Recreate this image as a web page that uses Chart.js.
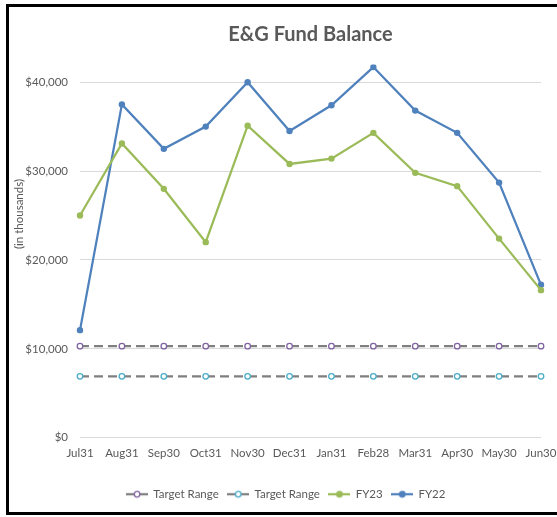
<!DOCTYPE html>
<html>
<head>
<meta charset="utf-8">
<script src="https://cdn.jsdelivr.net/npm/chart.js@4.4.1/dist/chart.umd.min.js"></script>
<style>
    html, body { margin: 0; padding: 0; background: #fff; }
    #wrap { position: relative; width: 557px; height: 517px; overflow: hidden; }
    #frame {
        position: absolute; left: 6px; top: 4px; width: 600px; height: 511px;
        box-sizing: border-box; border: 3px solid #000; border-right: none;
    }
    #chart { position: absolute; left: 0; top: 0; }
</style>
</head>
<body>
<div id="wrap">
    <div id="frame"></div>
    <canvas id="chart" width="557" height="517"></canvas>
</div>
<script>
const months = ['Jul31', 'Aug31', 'Sep30', 'Oct31', 'Nov30', 'Dec31', 'Jan31', 'Feb28', 'Mar31', 'Apr30', 'May30', 'Jun30'];
const targetHigh = [10300, 10300, 10300, 10300, 10300, 10300, 10300, 10300, 10300, 10300, 10300, 10300];
const targetLow = [6900, 6900, 6900, 6900, 6900, 6900, 6900, 6900, 6900, 6900, 6900, 6900];
const fy23 = [25000, 33100, 28000, 22000, 35100, 30800, 31400, 34300, 29800, 28300, 22400, 16600];
const fy22 = [12100, 37500, 32500, 35000, 40000, 34500, 37400, 41700, 36800, 34300, 28700, 17200];
const yTicks = [0, 10000, 20000, 30000, 40000];

const GRAY_TEXT = '#595959';
const FONT = 'Lato, "Open Sans", sans-serif';

// small line+marker icons for the legend
function legendIcon(lineColor, markerColor, markerFill) {
    const c = document.createElement('canvas');
    c.width = 22;
    c.height = 10;
    const g = c.getContext('2d');
    g.strokeStyle = lineColor;
    g.lineWidth = 2.25;
    g.beginPath();
    g.moveTo(0, 5);
    g.lineTo(22, 5);
    g.stroke();
    g.beginPath();
    g.arc(11, 5, 2.8, 0, Math.PI * 2);
    g.fillStyle = markerFill;
    g.fill();
    g.lineWidth = 1.3;
    g.strokeStyle = markerColor;
    g.stroke();
    return c;
}

// y axis title sits a bit above the middle, like the original
const yTitlePlugin = {
    id: 'yTitle',
    afterDraw(chart) {
        const ctx = chart.ctx;
        ctx.save();
        ctx.translate(19, 214);
        ctx.rotate(-Math.PI / 2);
        ctx.font = '11.5px ' + FONT;
        ctx.fillStyle = GRAY_TEXT;
        ctx.textAlign = 'center';
        ctx.textBaseline = 'middle';
        ctx.fillText('(in thousands)', 0, 0);
        ctx.restore();
    }
};

const ctx = document.getElementById('chart').getContext('2d');
Chart.defaults.font.family = FONT;
Chart.defaults.color = GRAY_TEXT;

new Chart(ctx, {
    type: 'line',
    data: {
        labels: months,
        datasets: [{
                label: 'Target Range',
                data: targetHigh,
                borderColor: '#7f7f7f',
                borderWidth: 2.25,
                borderDash: [9, 5],
                pointRadius: 2.8,
                pointBorderWidth: 1.3,
                pointBorderColor: '#8064a2',
                pointBackgroundColor: '#fff',
                tension: 0
            }, {
                label: 'Target Range',
                data: targetLow,
                borderColor: '#7f7f7f',
                borderWidth: 2.25,
                borderDash: [9, 5],
                pointRadius: 2.8,
                pointBorderWidth: 1.3,
                pointBorderColor: '#4bacc6',
                pointBackgroundColor: '#fff',
                tension: 0
            }, {
                label: 'FY23',
                data: fy23,
                borderColor: '#9bbb59',
                backgroundColor: '#9bbb59',
                borderWidth: 2.25,
                pointRadius: 3.2,
                pointBorderWidth: 0,
                pointBackgroundColor: '#9bbb59',
                tension: 0
            }, {
                label: 'FY22',
                data: fy22,
                borderColor: '#4f81bd',
                backgroundColor: '#4f81bd',
                borderWidth: 2.25,
                pointRadius: 3.2,
                pointBorderWidth: 0,
                pointBackgroundColor: '#4f81bd',
                tension: 0
            }]
    },
    options: {
        responsive: false,
        animation: false,
        layout: {
            padding: { left: 15, right: 0, top: 0, bottom: 7 }
        },
        plugins: {
            title: {
                display: true,
                fullSize: false, // centre over the plot area
                text: 'E&G Fund Balance',
                color: GRAY_TEXT,
                font: { size: 20, weight: 'bold' },
                padding: { top: 23, bottom: 17.4 }
            },
            legend: {
                position: 'bottom',
                labels: {
                    usePointStyle: true,
                    pointStyleWidth: 21,
                    boxHeight: 10,
                    padding: 9,
                    color: GRAY_TEXT,
                    font: { size: 11.5 },
                    generateLabels: function (chart) {
                        const icons = [
                            legendIcon('#7f7f7f', '#8064a2', '#fff'),
                            legendIcon('#7f7f7f', '#4bacc6', '#fff'),
                            legendIcon('#9bbb59', '#9bbb59', '#9bbb59'),
                            legendIcon('#4f81bd', '#4f81bd', '#4f81bd')
                        ];
                        return chart.data.datasets.map((ds, i) => ({
                            text: ds.label,
                            pointStyle: icons[i],
                            fontColor: GRAY_TEXT,
                            datasetIndex: i,
                            hidden: false,
                            lineWidth: 0
                        }));
                    }
                }
            },
            tooltip: { enabled: false }
        },
        scales: {
            x: {
                offset: false,
                grid: { display: false, drawTicks: false },
                border: { display: false },
                ticks: { padding: 9, font: { size: 11.5 }, color: GRAY_TEXT, maxRotation: 0, autoSkip: false },
                afterFit: function (scale) {
                    scale.height += 10;
                    scale.paddingLeft = 0;
                    scale.paddingRight = 16;
                }
            },
            y: {
                min: 0,
                max: 42000,
                afterBuildTicks: function (scale) {
                    scale.ticks = yTicks.map(v => ({ value: v }));
                },
                afterFit: function (scale) {
                    scale.width = 65;
                },
                grid: { color: '#d9d9d9', lineWidth: 1, drawTicks: false },
                border: { display: false },
                ticks: {
                    padding: 12,
                    font: { size: 11.5 },
                    color: GRAY_TEXT,
                    callback: function (value) {
                        return '$' + value.toLocaleString('en-US');
                    }
                }
            }
        }
    },
    plugins: [yTitlePlugin]
});
</script>
</body>
</html>
